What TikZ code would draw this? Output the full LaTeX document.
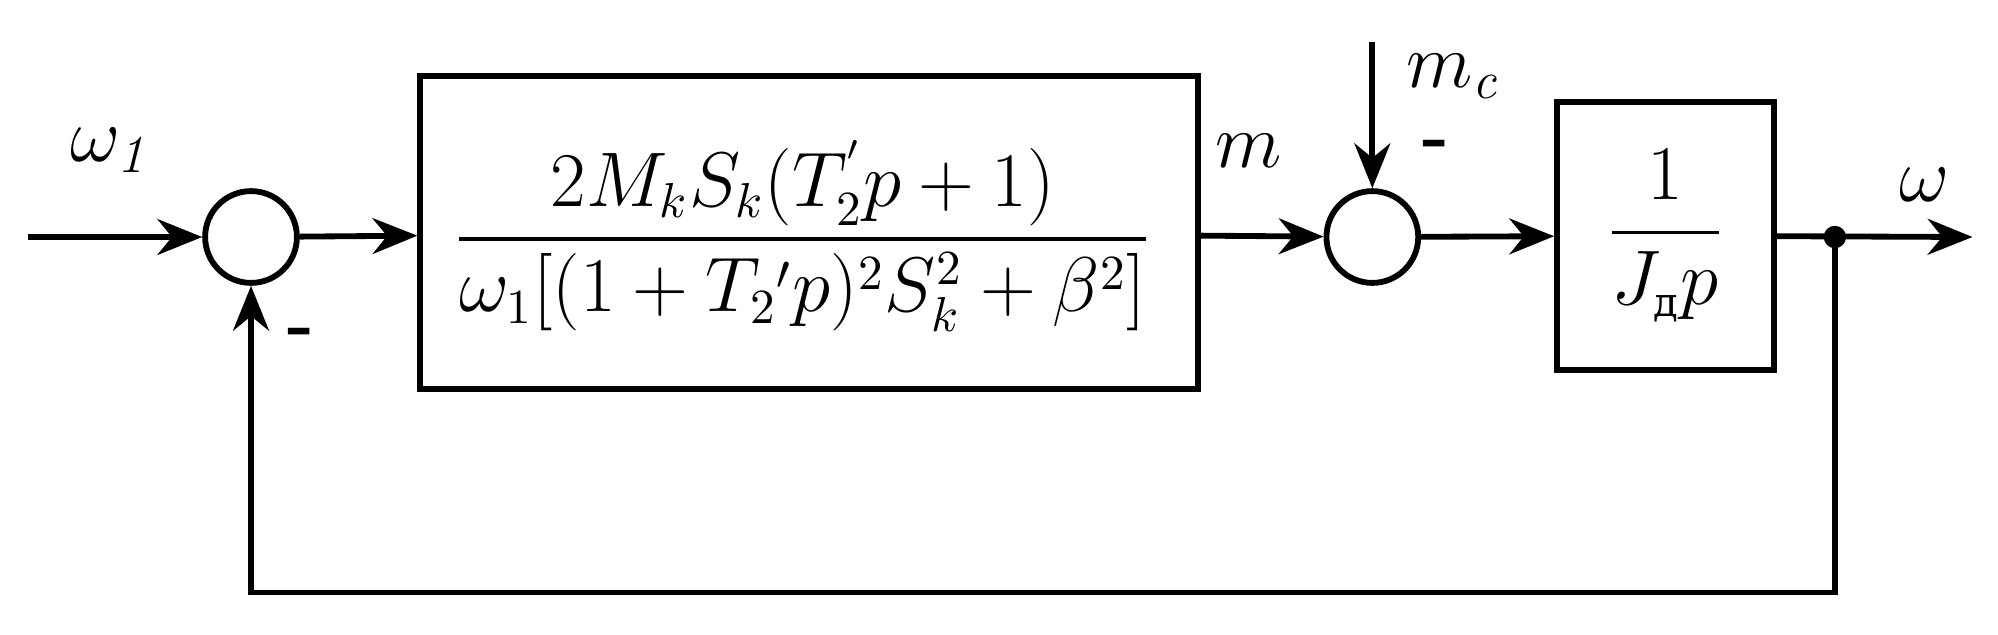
\documentclass[tikz,border=0pt]{standalone}
\usepackage{amsmath}
\usepackage{fontspec}
\newfontfamily\cyrfont{DejaVu Serif}
\usetikzlibrary{arrows.meta}
\begin{document}
\begin{tikzpicture}[x=0.01cm,y=-0.01cm,
  line width=1.3pt,
  sumnode/.style={circle,draw,minimum size=0.72cm,inner sep=0pt},
  blockbox/.style={draw,rectangle,inner sep=0pt},
  sig/.style={-{Stealth[length=10pt,width=8pt]}},
  lbl/.style={font=\fontsize{17}{20}\selectfont}]
\useasboundingbox (0,0) rectangle (1568,497.6);
\node[sumnode] (s1) at (197,186) {};
\node[sumnode] (s2) at (1077,186) {};
\node[blockbox,minimum width=6.1cm,minimum height=2.45cm] (b1) at (635,182.5) {};
\node[blockbox,minimum width=1.7cm,minimum height=2.1cm] (b2) at (1307,185) {};
\node[font=\fontsize{16}{19}\selectfont] (f1) at (630,185) {$\dfrac{2M_kS_k(T_2^{'}p+1)}{\omega_1[(1+T_2{}'p)^2S_k^2+\beta^2]}$};
\node[font=\fontsize{17}{20}\selectfont] (f2) at (1307,185) {$\dfrac{1}{J_{\text{\cyrfont\small д}}p}$};
\coordinate (in) at (22,186);
\coordinate (out) at (1548,186);
\coordinate (br) at (1440,186);
\coordinate (mctop) at (1077,33);
\coordinate (fb1) at (1440,465);
\coordinate (fb2) at (197,465);
\draw[sig] (in) -- (s1);
\draw[sig] (s1) -- (b1);
\draw[sig] (b1) -- (s2);
\draw[sig] (mctop) -- (s2);
\draw[sig] (s2) -- (b2);
\draw[sig] (b2) -- (out);
\fill (br) circle (2.5pt);
\draw[sig] (br) -- (fb1) -- (fb2) -- (s1);
\node[lbl] (lw1) at (85,118) {$\omega_{\mathit{1}}$};
\node[lbl] (lm) at (980,118) {$m$};
\node[lbl] (lmc) at (1140,60) {$m_{\mathit{c}}$};
\node[lbl] (lw) at (1510,145) {$\omega$};
\node[font=\bfseries\fontsize{16}{18}\selectfont] (mn1) at (1127,118) {-};
\node[font=\bfseries\fontsize{16}{18}\selectfont] (mn2) at (236,265) {-};
\end{tikzpicture}
\end{document}
